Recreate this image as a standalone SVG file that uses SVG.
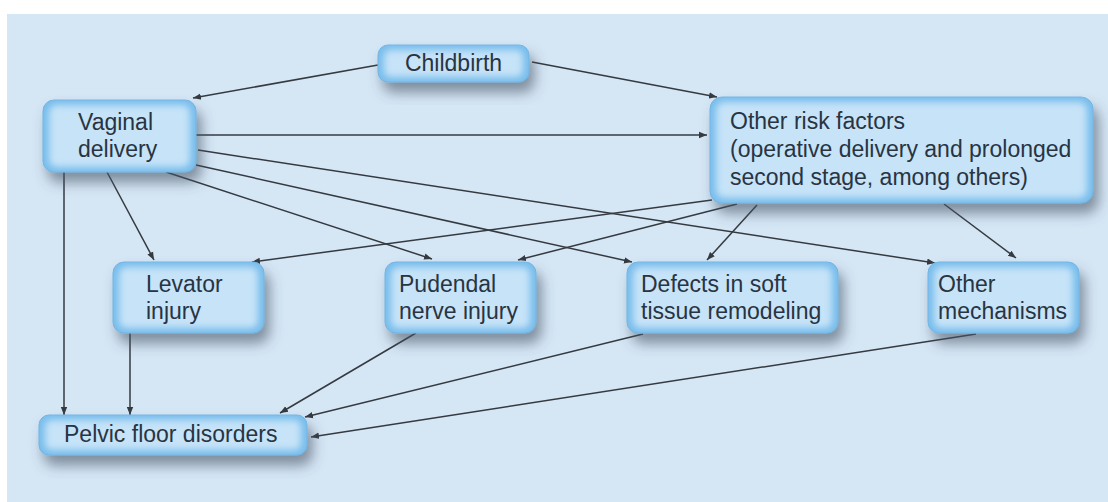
<svg xmlns="http://www.w3.org/2000/svg" width="1108" height="502" viewBox="0 0 1108 502">
<style>
.base{fill:#78bdec;stroke:#6fb3e3;stroke-width:1;filter:url(#shadow)}
.glow{fill:#c6e3f8;filter:url(#soft)}
.lbl{font-family:"Liberation Sans",Arial,Helvetica,sans-serif;font-size:23px;fill:#283442}
.edge{stroke:#353a40;stroke-width:1.5;fill:none;marker-end:url(#arr)}
</style>
<defs>
<filter id="shadow" x="-20%" y="-30%" width="150%" height="190%">
<feDropShadow dx="5" dy="10" stdDeviation="6.5" flood-color="#445262" flood-opacity="0.6"/>
</filter>
<filter id="soft" x="-10%" y="-20%" width="120%" height="140%">
<feGaussianBlur stdDeviation="3.5"/>
</filter>
<marker id="arr" viewBox="0 0 10 10" refX="10" refY="5" markerWidth="8" markerHeight="8" orient="auto" markerUnits="userSpaceOnUse">
<path d="M0,1 L10,5 L0,9 z" fill="#353a40"/>
</marker>
</defs>
<rect x="0" y="0" width="1108" height="502" fill="#ffffff"/>
<rect x="7" y="14" width="1101" height="488" fill="#d5e6f5"/>

<g id="connectors">
<line class="edge" x1="378" y1="65" x2="193" y2="98"/>
<line class="edge" x1="532" y1="62" x2="717" y2="97"/>
<line class="edge" x1="196" y1="135" x2="707" y2="135"/>
<line class="edge" x1="198" y1="150" x2="935" y2="263"/>
<line class="edge" x1="196" y1="165" x2="632" y2="262"/>
<line class="edge" x1="166" y1="172" x2="432" y2="259"/>
<line class="edge" x1="107" y1="172" x2="154" y2="260"/>
<line class="edge" x1="64" y1="172" x2="64" y2="415"/>
<line class="edge" x1="712" y1="200" x2="252" y2="262"/>
<line class="edge" x1="737" y1="204" x2="518" y2="260"/>
<line class="edge" x1="757" y1="205" x2="707" y2="260"/>
<line class="edge" x1="944" y1="204" x2="1016" y2="258"/>
<line class="edge" x1="130" y1="333" x2="130" y2="415"/>
<line class="edge" x1="416" y1="333" x2="280" y2="413"/>
<line class="edge" x1="643" y1="334" x2="305" y2="417"/>
<line class="edge" x1="976" y1="334" x2="311" y2="437"/>
</g>

<g id="childbirth">
<rect class="base" x="378" y="45" width="151" height="37" rx="10"/>
<rect class="glow" x="384" y="50" width="139" height="27" rx="6"/>
<text class="lbl" x="453.5" y="71" text-anchor="middle">Childbirth</text>
</g>

<g id="vaginal-delivery">
<rect class="base" x="43" y="100" width="153" height="72" rx="11"/>
<rect class="glow" x="49" y="105" width="141" height="62" rx="7"/>
<text class="lbl" x="78" y="130">Vaginal</text>
<text class="lbl" x="78" y="157">delivery</text>
</g>

<g id="other-risk-factors">
<rect class="base" x="710" y="97" width="383" height="106" rx="12"/>
<rect class="glow" x="716" y="102" width="371" height="96" rx="8"/>
<text class="lbl" x="730" y="129">Other risk factors</text>
<text class="lbl" x="730" y="157">(operative delivery and prolonged</text>
<text class="lbl" x="730" y="185">second stage, among others)</text>
</g>

<g id="levator-injury">
<rect class="base" x="113" y="262" width="151" height="71" rx="11"/>
<rect class="glow" x="119" y="267" width="139" height="61" rx="7"/>
<text class="lbl" x="146" y="292">Levator</text>
<text class="lbl" x="146" y="319">injury</text>
</g>

<g id="pudendal-nerve-injury">
<rect class="base" x="385" y="262" width="151" height="71" rx="11"/>
<rect class="glow" x="391" y="267" width="139" height="61" rx="7"/>
<text class="lbl" x="399" y="292">Pudendal</text>
<text class="lbl" x="399" y="319">nerve injury</text>
</g>

<g id="defects-soft-tissue">
<rect class="base" x="627" y="262" width="211" height="71" rx="11"/>
<rect class="glow" x="633" y="267" width="199" height="61" rx="7"/>
<text class="lbl" x="641" y="292">Defects in soft</text>
<text class="lbl" x="641" y="319">tissue remodeling</text>
</g>

<g id="other-mechanisms">
<rect class="base" x="928" y="262" width="151" height="71" rx="11"/>
<rect class="glow" x="934" y="267" width="139" height="61" rx="7"/>
<text class="lbl" x="938" y="292">Other</text>
<text class="lbl" x="938" y="319">mechanisms</text>
</g>

<g id="pelvic-floor-disorders">
<rect class="base" x="39" y="415" width="268" height="40" rx="10"/>
<rect class="glow" x="45" y="420" width="256" height="30" rx="6"/>
<text class="lbl" x="64" y="442">Pelvic floor disorders</text>
</g>
</svg>
